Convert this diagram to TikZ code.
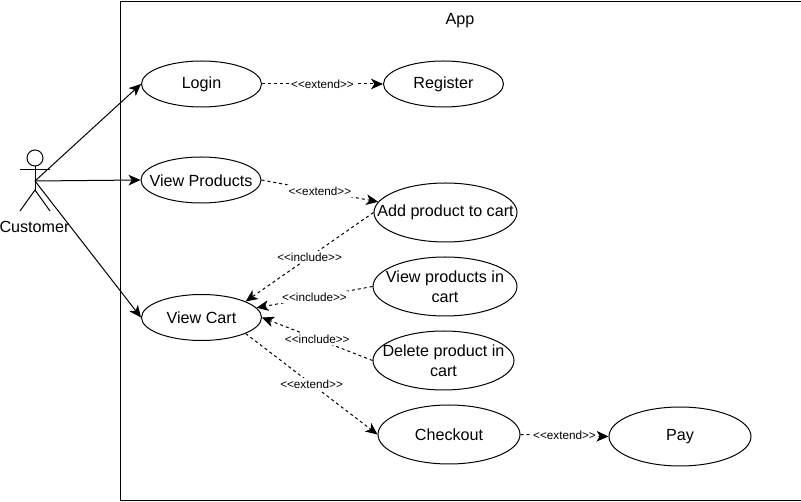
\documentclass[tikz,border=0pt]{standalone}
\usepackage{fontspec}
\setmainfont{Liberation Sans}
\usetikzlibrary{shapes.geometric,arrows.meta}
\tikzset{
  usecase/.style n args={3}{draw=black,ellipse,inner sep=0pt,minimum width=#1*0.75pt,minimum height=#2*0.75pt,
    label={[align=center,inner sep=0pt,yshift=-0.2pt,font=\fontsize{12.1}{15}\selectfont,text=black]center:#3}},
  assoc/.style={draw=black,line width=0.75pt,-{Stealth[length=9pt,width=8pt,inset=2.5pt]}},
  dep/.style={assoc,dash pattern=on 2.25pt off 2.25pt},
  deplabel/.style={fill=white,inner sep=1pt,font=\fontsize{8.8}{10}\selectfont,text=black},
  actorline/.style={draw=black,line width=0.75pt},
}
\begin{document}
\begin{tikzpicture}[x=0.75pt,y=-0.75pt,line width=0.75pt]
\useasboundingbox (0,0) rectangle (801,502);
\fill[white] (0,0) rectangle (801,502);
\node[draw=black,line width=0.75pt,minimum width=511.2pt,minimum height=374.6pt,inner sep=0pt] (app) at (461.3,250.75) {};
\node[font=\fontsize{12.1}{15}\selectfont] (apptitle) at (460,21) {App};

\node[usecase={120}{46}{Login}] (login) at (201.5,84) {};
\node[usecase={120}{46}{Register}] (register) at (443.5,84) {};
\node[usecase={120}{46}{View Products}] (products) at (201,180) {};
\node[usecase={143}{59}{Add product to cart}] (add) at (445.5,212.5) {};
\node[usecase={120}{46}{View Cart}] (cart) at (201.5,317.5) {};
\node[usecase={144}{59}{View products in\\cart}] (viewin) at (445,286.5) {};
\node[usecase={141}{59}{Delete product in\\cart}] (delete) at (443.5,360.5) {};
\node[usecase={142}{59}{Checkout}] (checkout) at (449,434.5) {};
\node[usecase={142}{59}{Pay}] (pay) at (680,436.5) {};

% actor
\node[draw=black,circle,line width=0.75pt,minimum size=12pt,inner sep=0pt] (head) at (35,158) {};
\coordinate (shoulder) at (35,181);
\coordinate (hip) at (35,190);
\coordinate (armL) at (20,170);
\coordinate (armR) at (50,170);
\coordinate (footL) at (20,211);
\coordinate (footR) at (50,211);
\draw[actorline] (head.south) -- (hip);
\draw[actorline] (armL) -- (armR);
\draw[actorline] (footL) -- (hip) -- (footR);
\node[font=\fontsize{12.1}{15}\selectfont] (customer) at (34.5,227) {Customer};

\draw[assoc] (shoulder) -- (login.west);
\draw[assoc] (shoulder) -- (products.west);
\draw[assoc] (shoulder) -- (cart.west);

\draw[dep] (login.east) -- node[deplabel] {<{}<extend>{}>} (register.west);
\draw[dep] (products.east) -- node[deplabel] {<{}<extend>{}>} (add.171.6);
\draw[dep] (add.west) -- node[deplabel] {<{}<include>{}>} (cart.20);
\draw[dep] (viewin.west) -- node[deplabel] {<{}<include>{}>} (cart.10);
\draw[dep] (delete.west) -- node[deplabel] {<{}<include>{}>} (cart.east);
\draw[dep] (cart.-20) -- node[deplabel] {<{}<extend>{}>} (checkout.west);
\draw[dep] (checkout.east) -- node[deplabel] {<{}<extend>{}>} (pay.west);
\end{tikzpicture}
\end{document}
